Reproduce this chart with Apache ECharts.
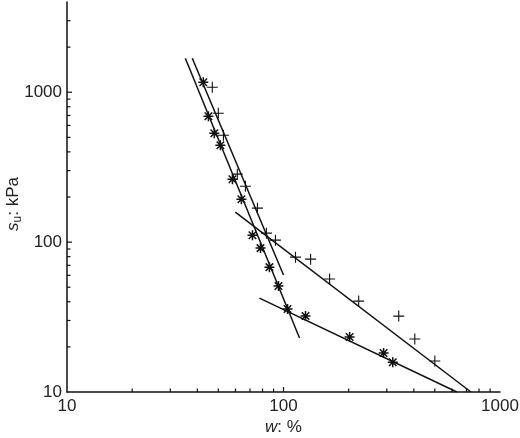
<!DOCTYPE html>
<html>
<head>
<meta charset="utf-8">
<script src="https://cdn.jsdelivr.net/npm/echarts@6/dist/echarts.min.js"></script>
<style>
html,body{margin:0;padding:0;background:#fff;}
#c{width:520px;height:438px;}
</style>
</head>
<body>
<div id="c"></div>
<script>
// "+" data points: water content w (%) and undrained strength su (kPa)
var plusW  = [46.9, 50.0, 52.8, 61.2, 66.7, 75.8, 83.4, 91.8, 113.6, 133.4, 163.3, 222.5, 340.7, 404, 500];
var plusSu = [1080, 724, 517, 284, 236, 168.5, 114.8, 103.1, 79.4, 77.0, 56.7, 40.4, 32.1, 22.6, 16.1];
// "*" data points
var starW  = [42.6, 45.0, 47.9, 51.1, 58.1, 63.9, 71.9, 78.3, 86.1, 94.8, 104.4, 126.4, 202, 290, 319.6];
var starSu = [1166, 692, 533, 443, 263, 193, 111, 91.2, 68.1, 50.9, 35.8, 32.1, 23.3, 18.2, 15.8];
// fitted lines (end points)
var lineStarSteepW  = [35.2, 118.6];
var lineStarSteepSu = [1686, 22.9];
var linePlusSteepW  = [37.9, 100];
var linePlusSteepSu = [1686, 60.3];
var linePlusFlatW   = [59.9, 733.9];
var linePlusFlatSu  = [158.5, 10];
var lineStarFlatW   = [77.4, 632];
var lineStarFlatSu  = [42.3, 10];
// axis ticks
var xTickMajor = [100];
var xTickMinor = [20,30,40,50,60,70,80,90,200,300,400,500,600,700,800,900];
var yTickMajor = [100, 1000];
var yTickMinor = [20,30,40,50,60,70,80,90,200,300,400,500,600,700,800,900,2000,3000];

function pairs(a, b) { return a.map(function (v, i) { return [v, b[i]]; }); }

var PLUS = 'path://M-0.1,-1 L0.1,-1 L0.1,1 L-0.1,1 Z M-1,-0.1 L1,-0.1 L1,0.1 L-1,0.1 Z';
var STAR = 'path://M-0.15,-1 L0.15,-1 L0.15,1 L-0.15,1 Z M-1,-0.15 L1,-0.15 L1,0.15 L-1,0.15 Z ' +
  'M-0.856,-0.644 L-0.644,-0.856 L0.856,0.644 L0.644,0.856 Z ' +
  'M-0.644,0.856 L-0.856,0.644 L0.644,-0.856 L0.856,-0.644 Z ' +
  'M0,-0.45 L0.45,0 L0,0.45 L-0.45,0 Z';

var lineStyle = { color: '#111', width: 1.5 };
function lineSeries(w, s) {
  return { type: 'line', data: pairs(w, s), symbol: 'none', lineStyle: lineStyle, silent: true, z: 2 };
}

var tickData = [];
xTickMajor.forEach(function (v) { tickData.push([v, 10, 0, 5]); });
xTickMinor.forEach(function (v) { tickData.push([v, 10, 0, 3.5]); });
yTickMajor.forEach(function (v) { tickData.push([10, v, 1, 5]); });
yTickMinor.forEach(function (v) { tickData.push([10, v, 1, 3.5]); });

var FONT = 'Liberation Sans, Arial, sans-serif';
var labelFont = { fontFamily: FONT, fontSize: 17, color: '#222' };

var chart = echarts.init(document.getElementById('c'), null, { renderer: 'canvas' });
chart.setOption({
  animation: false,
  backgroundColor: '#fff',
  grid: { left: 67, right: 20, top: 2, bottom: 46, containLabel: false, outerBoundsMode: 'none' },
  xAxis: {
    type: 'log', min: 10, max: 1000, logBase: 10,
    axisLine: { lineStyle: { color: '#111', width: 1.5 } },
    axisTick: { show: false },
    splitLine: { show: false },
    axisLabel: Object.assign({ margin: 6, formatter: function (v) { return String(Math.round(v)); } }, labelFont),
    name: '{i|w}{n|: %}',
    nameLocation: 'middle', nameGap: 27, nameMoveOverlap: false,
    nameTextStyle: {
      rich: {
        i: { fontStyle: 'italic', fontFamily: FONT, fontSize: 17, color: '#222' },
        n: { fontFamily: FONT, fontSize: 17, color: '#222' }
      }
    }
  },
  yAxis: {
    type: 'log', min: 10, max: 4000, logBase: 10,
    axisLine: { lineStyle: { color: '#111', width: 1.5 } },
    axisTick: { show: false },
    splitLine: { show: false },
    axisLabel: Object.assign({ margin: 5, showMaxLabel: false, formatter: function (v) {
      var r = Math.round(v); return (r === 10 || r === 100 || r === 1000) ? String(r) : '';
    } }, labelFont),
    name: '{i|s}{sub|u}{n|: kPa}',
    nameLocation: 'middle', nameGap: 43, nameRotate: 90, nameMoveOverlap: false,
    nameTextStyle: {
      padding: [0, 0, 0, -14],
      rich: {
        i: { fontStyle: 'italic', fontFamily: FONT, fontSize: 17, color: '#222', lineHeight: 22 },
        sub: { fontFamily: FONT, fontSize: 12, color: '#222', lineHeight: 22, verticalAlign: 'bottom' },
        n: { fontFamily: FONT, fontSize: 17, color: '#222', lineHeight: 22 }
      }
    }
  },
  series: [
    lineSeries(lineStarSteepW, lineStarSteepSu),
    lineSeries(linePlusSteepW, linePlusSteepSu),
    lineSeries(linePlusFlatW, linePlusFlatSu),
    lineSeries(lineStarFlatW, lineStarFlatSu),
    {
      type: 'scatter', data: pairs(plusW, plusSu), symbol: PLUS, symbolSize: 11,
      itemStyle: { color: '#111', opacity: 1 }, z: 3
    },
    {
      type: 'scatter', data: pairs(starW, starSu), symbol: STAR, symbolSize: 10,
      itemStyle: { color: '#111', opacity: 1 }, z: 3
    },
    {
      type: 'custom', data: tickData, silent: true, z: 4, clip: false,
      encode: { x: 0, y: 1 },
      renderItem: function (params, api) {
        var p = api.coord([api.value(0), api.value(1)]);
        var dir = api.value(2), len = api.value(3);
        var shape = dir === 0
          ? { x1: p[0], y1: p[1], x2: p[0], y2: p[1] - len }
          : { x1: p[0], y1: p[1], x2: p[0] + len, y2: p[1] };
        return { type: 'line', shape: shape, style: { stroke: '#111', lineWidth: 1.2 } };
      }
    }
  ]
});
</script>
</body>
</html>
